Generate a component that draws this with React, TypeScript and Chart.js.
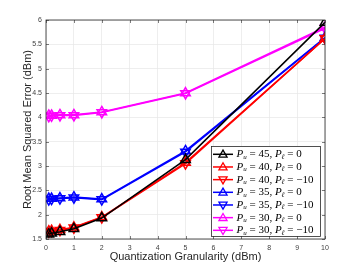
import React, { useEffect, useRef } from "react";
import { Chart, registerables } from "chart.js";

Chart.register(...registerables);

const granularity = [0.1, 0.2, 0.5, 1, 2, 5, 10];
const pu45_pl0 = [1.6, 1.62, 1.65, 1.71, 1.93, 3.13, 5.95];
const pu40_pl0 = [1.66, 1.67, 1.69, 1.74, 1.95, 3.07, 5.62];
const pu40_plm10 = [1.65, 1.66, 1.68, 1.73, 1.94, 3.05, 5.62];
const pu35_pl0 = [2.33, 2.33, 2.34, 2.36, 2.32, 3.31, 5.64];
const pu35_plm10 = [2.31, 2.32, 2.33, 2.35, 2.31, 3.29, 5.63];
const pu30_pl0 = [4.04, 4.04, 4.05, 4.05, 4.11, 4.5, 5.85];
const pu30_plm10 = [4.02, 4.03, 4.04, 4.04, 4.1, 4.49, 5.83];

const puLabels = ["45", "40", "40", "35", "35", "30", "30"];
const plLabels = ["0", "0", "\u221210", "0", "\u221210", "0", "\u221210"];
const seriesColors = ["#000000", "#ff0000", "#ff0000", "#0000ff", "#0000ff", "#ff00ff", "#ff00ff"];
const markerDown = [false, false, true, false, true, false, true];
const seriesValues = [pu45_pl0, pu40_pl0, pu40_plm10, pu35_pl0, pu35_plm10, pu30_pl0, pu30_plm10];

const xTitle = "Quantization Granularity (dBm)";
const yTitle = "Root Mean Squared Error (dBm)";

const AXIS_COLOR = "#262626";
const TICK_COLOR = "#404040";

function drawTriangle(ctx: CanvasRenderingContext2D, cx: number, cy: number, r: number, down: boolean) {
  const s = down ? -1 : 1;
  ctx.beginPath();
  ctx.moveTo(cx, cy - s * r);
  ctx.lineTo(cx - r * 0.866, cy + s * r * 0.5);
  ctx.lineTo(cx + r * 0.866, cy + s * r * 0.5);
  ctx.closePath();
  ctx.stroke();
}

const framePlugin = {
  id: "frame",
  beforeDatasetsDraw(chart: any) {
    const { ctx, chartArea, scales } = chart;
    const { left, right, top, bottom } = chartArea;
    ctx.save();
    ctx.strokeStyle = AXIS_COLOR;
    ctx.lineWidth = 0.6;
    const tl = 3;
    scales.x.ticks.forEach((t: any) => {
      const px = Math.round(scales.x.getPixelForValue(t.value)) + 0.5;
      ctx.beginPath();
      ctx.moveTo(px, bottom);
      ctx.lineTo(px, bottom - tl);
      ctx.moveTo(px, top);
      ctx.lineTo(px, top + tl);
      ctx.stroke();
    });
    scales.y.ticks.forEach((t: any) => {
      const py = Math.round(scales.y.getPixelForValue(t.value)) + 0.5;
      ctx.beginPath();
      ctx.moveTo(left, py);
      ctx.lineTo(left + tl, py);
      ctx.moveTo(right, py);
      ctx.lineTo(right - tl, py);
      ctx.stroke();
    });
    ctx.restore();
  },
  afterDatasetsDraw(chart: any) {
    const { ctx, chartArea } = chart;
    const { left, right, top, bottom } = chartArea;
    ctx.save();
    ctx.strokeStyle = AXIS_COLOR;
    ctx.lineWidth = 0.8;
    ctx.strokeRect(left, top, right - left, bottom - top);

    // legend
    const bx = 211, by = 146, bw = 109, bh = 90;
    ctx.fillStyle = "#ffffff";
    ctx.fillRect(bx, by, bw, bh);
    ctx.lineWidth = 0.8;
    ctx.strokeStyle = AXIS_COLOR;
    ctx.strokeRect(bx + 0.5, by + 0.5, bw, bh);
    const rowH = 12.67;
    chart.data.datasets.forEach((ds: any, i: number) => {
      const y = by + 8.3 + i * rowH;
      ctx.strokeStyle = ds.borderColor;
      ctx.lineWidth = 1.5;
      ctx.beginPath();
      ctx.moveTo(213, y);
      ctx.lineTo(233, y);
      ctx.stroke();
      ctx.lineWidth = 1.3;
      drawTriangle(ctx, 223, y + (markerDown[i] ? -0.5 : 0.5), 4.7, markerDown[i]);
      // text
      let x = 236.5;
      ctx.fillStyle = "#000000";
      ctx.textBaseline = "middle";
      ctx.textAlign = "left";
      const parts: [string, string, number][] = [
        ["P", "italic 11px 'Liberation Serif'", 0],
        ["u", "italic 7px 'Liberation Serif'", 2.5],
        [" = " + puLabels[i] + ", ", "11px 'Liberation Serif'", 0],
        ["P", "italic 11px 'Liberation Serif'", 0],
        ["\u2113", "italic 7px 'Liberation Serif'", 2.5],
        [" = " + plLabels[i], "11px 'Liberation Serif'", 0],
      ];
      parts.forEach(([txt, font, dy]) => {
        ctx.font = font;
        ctx.fillText(txt, x, y + dy);
        x += ctx.measureText(txt).width;
      });
    });
    ctx.restore();
  },
};

export default function App() {
  const canvasRef = useRef<HTMLCanvasElement | null>(null);

  useEffect(() => {
    if (!canvasRef.current) return;
    const datasets = seriesValues.map((vals, i) => ({
      label: "P_u = " + puLabels[i] + ", P_l = " + plLabels[i],
      data: granularity.map((g, j) => ({ x: g, y: vals[j] })),
      borderColor: seriesColors[i],
      backgroundColor: seriesColors[i],
      pointBorderColor: seriesColors[i],
      pointBackgroundColor: "rgba(255,255,255,0)",
      borderWidth: 1.6,
      pointBorderWidth: 1.5,
      pointStyle: "triangle" as const,
      pointRotation: markerDown[i] ? 180 : 0,
      pointRadius: 5.5,
      tension: 0,
    }));
    const chart = new Chart(canvasRef.current, {
      type: "line",
      data: { datasets },
      options: {
        animation: false,
        responsive: false,
        maintainAspectRatio: false,
        layout: { padding: { left: 0, right: 35, top: 20, bottom: 0 } },
        plugins: { legend: { display: false }, tooltip: { enabled: false } },
        scales: {
          x: {
            type: "linear",
            min: 0,
            max: 10,
            afterFit: (s: any) => {
              s.height = 31;
            },
            ticks: {
              stepSize: 1,
              color: TICK_COLOR,
              font: { family: "'Liberation Sans'", size: 7 },
              padding: 5,
              maxRotation: 0,
              callback: (v: any) => String(Number(v)),
            },
            grid: { color: "#e6e6e6", lineWidth: 0.7, drawTicks: false },
            border: { display: false },
            title: {
              display: true,
              text: xTitle,
              color: AXIS_COLOR,
              font: { family: "'Liberation Sans'", size: 11 },
              padding: { top: 0, bottom: 6 },
            },
          },
          y: {
            type: "linear",
            min: 1.5,
            max: 6,
            afterFit: (s: any) => {
              s.width = 46;
            },
            ticks: {
              stepSize: 0.5,
              color: TICK_COLOR,
              font: { family: "'Liberation Sans'", size: 7 },
              padding: 4,
              callback: (v: any) => String(Number(v)),
            },
            grid: { color: "#e6e6e6", lineWidth: 0.7, drawTicks: false },
            border: { display: false },
            title: {
              display: true,
              text: yTitle,
              color: AXIS_COLOR,
              font: { family: "'Liberation Sans'", size: 11 },
              padding: { top: 21, bottom: 0 },
            },
          },
        },
      },
      plugins: [framePlugin],
    });
    return () => chart.destroy();
  }, []);

  return (
    <div style={{ position: "fixed", left: 0, top: 0, width: 360, height: 270, background: "#ffffff" }}>
      <canvas ref={canvasRef} width={360} height={270} style={{ display: "block", width: 360, height: 270 }} />
    </div>
  );
}
